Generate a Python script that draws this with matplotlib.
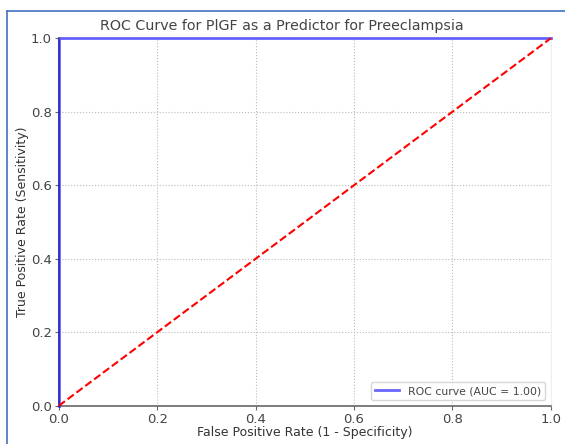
import matplotlib
matplotlib.use("Agg")
import matplotlib.pyplot as plt
from matplotlib.lines import Line2D

# ROC points
fpr = [0.0, 0.0, 1.0]
tpr = [0.0, 1.0, 1.0]
auc_value = 1.00
chance = [0.0, 1.0]

fig = plt.figure(figsize=(5.65, 4.44), dpi=100)
ax = fig.add_axes([0.104, 0.086, 0.871, 0.828])

ax.plot(fpr, tpr, color='blue', lw=2, alpha=0.6, clip_on=False, zorder=3,
        label=f'ROC curve (AUC = {auc_value:.2f})')
ax.plot(chance, chance, color='red', lw=1.5, linestyle='--', clip_on=False, zorder=3)

ax.set_xlim(0.0, 1.0)
ax.set_ylim(0.0, 1.0)
ax.set_xlabel('False Positive Rate (1 - Specificity)', fontsize=9, color='#333333', labelpad=0)
ax.set_ylabel('True Positive Rate (Sensitivity)', fontsize=9, color='#333333', labelpad=1)
# title sits centred on the figure, not the axes
ax.set_title('ROC Curve for PlGF as a Predictor for Preeclampsia', fontsize=10.3,
             color='#444444', pad=6, x=0.453)
ax.tick_params(labelsize=9.5, labelcolor='#444444', color='#666666', length=3, pad=2)
ax.grid(True, linestyle=':', color='#bbbbbb', lw=0.8)

for side in ['left', 'bottom']:
    ax.spines[side].set_color('#666666')
    ax.spines[side].set_linewidth(1.2)
for side in ['top', 'right']:
    ax.spines[side].set_color('#eeeeee')

leg = ax.legend(loc='lower right', fontsize=7.8, frameon=True, handlelength=2.2)
for t in leg.get_texts():
    t.set_color('#444444')

# frame of the screenshot
fig.add_artist(Line2D([0.013, 0.013], [0.0, 0.975], color='#4472c4', lw=1.2))
fig.add_artist(Line2D([0.013, 1.0], [0.975, 0.975], color='#4472c4', lw=1.2))

fig.savefig('out.png', dpi=100)
